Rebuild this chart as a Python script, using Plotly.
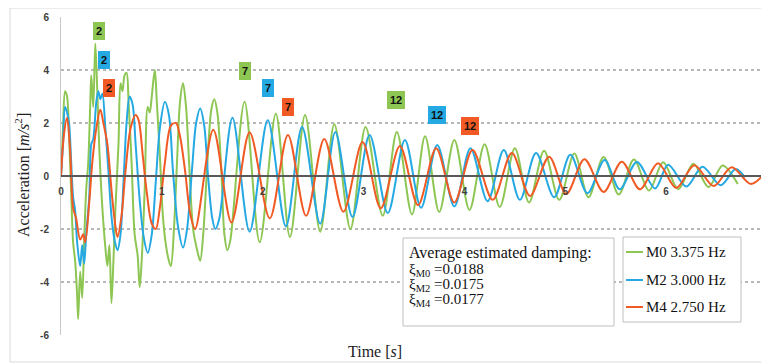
import plotly.graph_objects as go

# ---------------- data ----------------
m0_t = [0.00, 0.02, 0.04, 0.06, 0.08, 0.10, 0.12, 0.14, 0.16, 0.17, 0.19, 0.21, 0.23, 0.25, 0.27,
        0.29, 0.30, 0.32, 0.34, 0.36, 0.38, 0.41, 0.44, 0.46, 0.48, 0.50, 0.52, 0.54, 0.57, 0.59,
        0.61, 0.63, 0.65, 0.67, 0.70, 0.73, 0.76, 0.78, 0.80, 0.83, 0.86, 0.88, 0.90, 0.93, 0.95,
        0.98, 1.01, 1.04, 1.07, 1.09, 1.12, 1.15, 1.18, 1.21, 1.24, 1.27, 1.31, 1.35, 1.38, 1.41,
        1.45, 1.49, 1.52, 1.55, 1.59, 1.62, 1.65, 1.68,
        1.82, 1.97, 2.13, 2.27, 2.42, 2.57, 2.71, 2.87, 3.02, 3.19, 3.33, 3.48, 3.61, 3.75, 3.90,
        4.05, 4.20, 4.35, 4.50, 4.64, 4.79, 4.94, 5.09, 5.23, 5.38, 5.53, 5.68, 5.83, 5.97, 6.12,
        6.27, 6.42, 6.56, 6.71]
m0_a = [0.0, 1.8, 3.2, 3.0, 1.5, -0.5, -2.5, -3.2, -4.5, -5.4, -3.6, -4.6, -2.4, -0.5, 0.5,
        2.7, 3.8, 2.6, 5.0, 3.2, 1.0, -1.2, -2.7, -3.4, -2.6, -4.8, -3.2, -1.2, 1.2, 3.5,
        3.2, 3.8, 3.9, 2.8, 0.5, -2.2, -3.0, -4.2, -3.2, -0.5, 2.6, 2.4, 3.0, 4.0, 2.8,
        0.8, -1.5, -2.6, -3.2, -3.4, -2.0, 0.5, 2.8, 3.5, 2.6, 0.5, -2.0, -2.8, -3.2, -2.2,
        0.4, 2.5, 2.9, 2.4, 0.2, -2.2, -2.8, -2.4,
        2.8, -2.5, 2.35, -2.3, 2.3, -2.1, 1.95, -2.0, 1.85, -1.5, 1.66, -1.45, 1.5, -1.36, 1.36,
        -1.28, 1.2, -1.17, 1.05, -1.0, 0.95, -0.9, 0.85, -0.8, 0.72, -0.7, 0.62, -0.55, 0.52, -0.5,
        0.46, -0.42, 0.4, -0.3]

m2_t = [0.00, 0.02, 0.04, 0.06, 0.08, 0.10, 0.12, 0.14, 0.16, 0.19, 0.21, 0.23, 0.25, 0.28, 0.30,
        0.32, 0.35, 0.37, 0.39, 0.41, 0.44, 0.47, 0.50, 0.53, 0.56, 0.59, 0.62, 0.65, 0.68, 0.71,
        0.74, 0.78, 0.82, 0.86, 0.90, 0.94, 0.98, 1.03, 1.07, 1.11, 1.16, 1.21, 1.25, 1.30, 1.34,
        1.38, 1.42, 1.46, 1.50, 1.53, 1.57,
        1.70, 1.87, 2.05, 2.23, 2.39, 2.57, 2.72, 2.89, 3.06, 3.24, 3.41, 3.57, 3.73, 3.90, 4.06,
        4.23, 4.39, 4.55, 4.71, 4.89, 5.05, 5.22, 5.39, 5.54, 5.71, 5.89, 6.02, 6.20, 6.36, 6.54,
        6.69, 6.78]
m2_a = [0.0, 1.2, 2.6, 2.4, 2.0, 0.6, -0.8, -1.3, -2.5, -3.4, -2.6, -3.3, -2.2, -0.8, 1.2,
        1.4, 2.8, 3.2, 2.9, 3.1, 1.8, 0.2, -1.5, -2.4, -2.8, -2.2, -0.2, 2.0, 3.0, 2.7,
        1.2, -0.9, -2.3, -2.9, -2.2, -0.2, 1.8, 2.8, 2.3, 0.2, -1.9, -2.7, -2.0, 0.3, 2.0,
        2.55, 1.9, -0.1, -1.6, -2.0, -1.6,
        2.2, -2.1, 2.1, -1.9, 1.85, -1.8, 1.66, -1.55, 1.55, -1.4, 1.36, -1.2, 1.17, -1.15, 1.05,
        -0.95, 0.98, -0.9, 0.87, -0.8, 0.8, -0.65, 0.6, -0.5, 0.53, -0.47, 0.42, -0.4, 0.35, -0.35,
        0.26, -0.05]

m4_t = [0.00, 0.03, 0.06, 0.09, 0.12, 0.15, 0.19, 0.22, 0.24, 0.28, 0.31, 0.35, 0.39, 0.42, 0.46,
        0.50, 0.53, 0.56, 0.60, 0.64, 0.69, 0.74, 0.77, 0.81, 0.85, 0.90, 0.94, 0.98, 1.03, 1.09,
        1.14, 1.18, 1.23, 1.28, 1.33,
        1.51, 1.69, 1.87, 2.07, 2.25, 2.43, 2.61, 2.80, 2.99, 3.17, 3.36, 3.54, 3.72, 3.90, 4.08,
        4.28, 4.47, 4.65, 4.84, 5.01, 5.19, 5.38, 5.56, 5.74, 5.92, 6.10, 6.28, 6.47, 6.65, 6.84,
        7.00]
m4_a = [0.0, 1.6, 2.2, 1.0, -1.2, -1.6, -2.4, -2.2, -2.5, -1.0, 0.5, 1.8, 2.5, 2.0, 1.2,
        -0.5, -1.6, -2.3, -1.5, 0.2, 1.8, 2.3, 2.1, 0.8, -0.6, -1.8, -2.0, -1.2, 0.5, 1.9,
        2.0, 1.5, 0.2, -1.4, -2.0,
        1.75, -1.75, 1.65, -1.6, 1.55, -1.5, 1.4, -1.35, 1.28, -1.22, 1.13, -1.1, 1.05, -1.0, 0.98,
        -0.9, 0.87, -0.75, 0.73, -0.68, 0.63, -0.6, 0.54, -0.5, 0.48, -0.45, 0.41, -0.38, 0.33, -0.3,
        0.2]

series_names = ["M0 3.375 Hz", "M2 3.000 Hz", "M4 2.750 Hz"]
series_colors = ["#8dc653", "#25a9e3", "#f15a24"]
label_bg = ["#8dc653", "#25a9e3", "#f15a24"]

# peak number labels: (text, t, a, series index)
peak_text = ["2", "2", "2", "7", "7", "7", "12", "12", "12"]
peak_t = [0.376, 0.426, 0.475, 1.82, 2.05, 2.25, 3.32, 3.73, 4.06]
peak_a = [5.47, 4.38, 3.32, 3.96, 3.32, 2.60, 2.87, 2.30, 1.89]
peak_series = [0, 1, 2, 0, 1, 2, 0, 1, 2]

damping_title = "Average estimated damping:"
damping_modes = ["M0", "M2", "M4"]
damping_values = ["0.0188", "0.0175", "0.0177"]

y_ticks = [-6, -4, -2, 0, 2, 4, 6]
x_ticks = [0, 1, 2, 3, 4, 5, 6, 7]

# ---------------- figure ----------------
# the page body has an 8px margin; the figure is sized so that it fills the window after it
OFF = 8
W, H = 769 - OFF, 363 - OFF
L, R, T = 61 - OFF, 2, 17 - OFF
B = (OFF + H) - 335
PW, PH = 706, 318


def px(x):
    return (x - 61) / PW


def py(y):
    return (335 - y) / PH


fig = go.Figure()
for t, a, name, col in zip([m0_t, m2_t, m4_t], [m0_a, m2_a, m4_a], series_names, series_colors):
    fig.add_trace(go.Scatter(x=t, y=a, mode="lines", name=name,
                             line=dict(color=col, width=2, shape="spline", smoothing=0.9),
                             showlegend=False))

serif = "Liberation Serif"
annotations = []
for txt, t, a, s in zip(peak_text, peak_t, peak_a, peak_series):
    annotations.append(dict(x=t, y=a, xref="x", yref="y", text="<b>%s</b>" % txt, showarrow=False,
                            font=dict(family="Liberation Sans", size=11, color="#111"),
                            bgcolor=label_bg[s], bordercolor=label_bg[s], borderpad=2))

# arrow heads at right end of grid lines
for yv in y_ticks:
    col = "#595959" if yv == 0 else "#b0b0b0"
    annotations.append(dict(x=7, y=yv, xref="x", yref="y", ax=-7, ay=0, text="", showarrow=True,
                            arrowhead=2, arrowsize=0.9, arrowwidth=1.2, arrowcolor=col))

# axis titles
annotations.append(dict(x=px(22), y=py(175), xref="paper", yref="paper", textangle=-90,
                        xanchor="center", yanchor="middle",
                        text="Acceleration [<i>m/s</i><sup>2</sup>]", showarrow=False,
                        font=dict(family=serif, size=16, color="#222")))
annotations.append(dict(x=px(375), y=py(351), xref="paper", yref="paper",
                        xanchor="center", yanchor="middle",
                        text="Time [<i>s</i>]", showarrow=False,
                        font=dict(family=serif, size=16, color="#222")))

# damping box text
annotations.append(dict(x=px(407), y=py(253), xref="paper", yref="paper", xanchor="left",
                        yanchor="middle", text=damping_title, showarrow=False,
                        font=dict(family=serif, size=16, color="#111")))
for i, (m, v) in enumerate(zip(damping_modes, damping_values)):
    annotations.append(dict(x=px(407), y=py(270 + 15 * i), xref="paper", yref="paper", xanchor="left",
                            yanchor="middle", text="ξ<sub>%s</sub> =%s" % (m, v), showarrow=False,
                            font=dict(family=serif, size=15, color="#111")))

# frame, boxes and hand-built legend
shapes = []
shapes.append(dict(type="rect", xref="paper", yref="paper", x0=px(10), x1=px(768), y0=py(362), y1=py(8),
                   line=dict(color="#d9d9d9", width=1), layer="below"))
shapes.append(dict(type="rect", xref="paper", yref="paper", x0=px(403), x1=px(614), y0=py(326), y1=py(238),
                   line=dict(color="#bfbfbf", width=1), fillcolor="white", layer="above"))
shapes.append(dict(type="rect", xref="paper", yref="paper", x0=px(623), x1=px(741), y0=py(322), y1=py(237),
                   line=dict(color="#bfbfbf", width=1), fillcolor="white", layer="above"))
leg_y = [252, 280, 307]
for name, col, yy in zip(series_names, series_colors, leg_y):
    shapes.append(dict(type="line", xref="paper", yref="paper", x0=px(626), x1=px(643), y0=py(yy), y1=py(yy),
                       line=dict(color=col, width=2), layer="above"))
    annotations.append(dict(x=px(644), y=py(yy), xref="paper", yref="paper", xanchor="left",
                            yanchor="middle", text=name, showarrow=False,
                            font=dict(family=serif, size=15, color="#111")))

fig.update_layout(
    width=W, height=H, margin=dict(l=L, r=R, t=T, b=B, autoexpand=False),
    paper_bgcolor="white", plot_bgcolor="white",
    xaxis=dict(range=[0, 7], tickvals=x_ticks, ticktext=[str(v) for v in x_ticks],
               anchor="free", position=0.5, showline=True, linecolor="#595959", linewidth=1.5,
               showgrid=False, zeroline=False, ticks="", ticklabelstandoff=6, automargin=False,
               ticklabeloverflow="allow",
               tickfont=dict(family="Liberation Sans", size=10, color="#404040", weight="bold")),
    yaxis=dict(range=[-6, 6], tickvals=y_ticks, ticktext=[str(v) for v in y_ticks],
               showline=True, linecolor="#c8c8c8", linewidth=1, showgrid=True, automargin=False,
               gridcolor="#b8b8b8", griddash="dot", gridwidth=1.5, zeroline=False, ticks="",
               ticklabelstandoff=9,
               tickfont=dict(family="Liberation Sans", size=10, color="#404040", weight="bold")),
    annotations=annotations, shapes=shapes, showlegend=False,
)

fig.write_html("out.html")
